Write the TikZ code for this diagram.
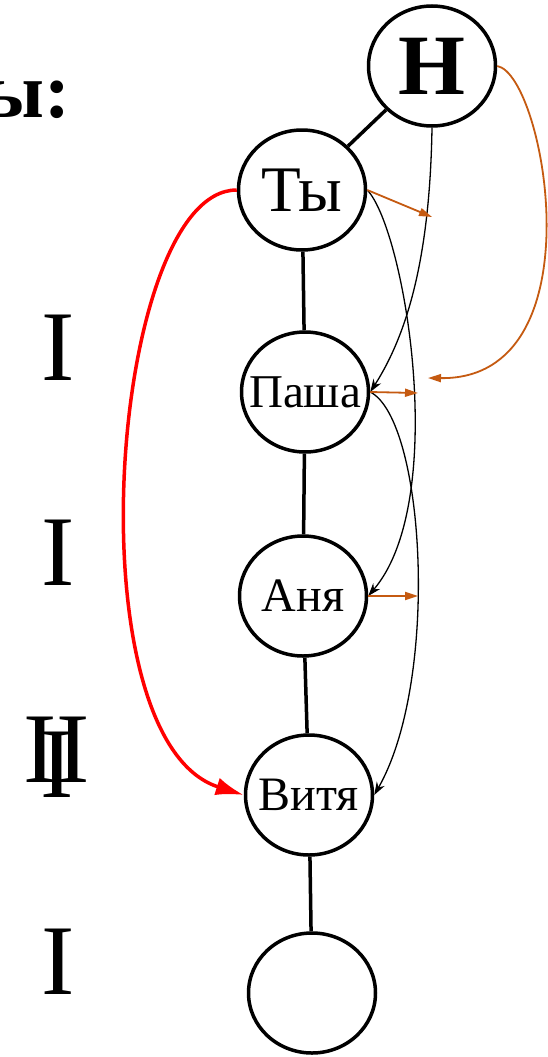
\documentclass[tikz,border=0pt]{standalone}
\usepackage{fontspec}
\setmainfont{Liberation Serif}
\usetikzlibrary{shapes.geometric,arrows.meta}
\definecolor{rust}{RGB}{197,90,17}
\newcommand\nm[1]{\makebox[0pt]{#1}}
\begin{document}
\begin{tikzpicture}[x=1pt,y=-1pt,
  person/.style={draw,ellipse,line width=3.5pt,minimum width=127pt,minimum height=120pt,inner sep=0pt},
  link/.style={line width=3.5pt},
  ask/.style={line width=1.3pt,-{Stealth[length=13pt,width=9pt]}},
  tell/.style={rust,line width=1.8pt,-{Triangle[length=13pt,width=8pt]}},
  roman/.style={font=\fontsize{100}{100}\selectfont}]
	\useasboundingbox (0,0) rectangle (548,1057);

	\node[person,font=\bfseries\fontsize{86}{86}\selectfont] (n) at (432,66) {\nm{Н}};
	\node[person,font=\fontsize{65}{65}\selectfont] (ty) at (302,190) {\nm{Ты}};
	\node[person,font=\fontsize{47}{47}\selectfont] (pasha) at (305,392) {\nm{Паша}};
	\node[person,font=\fontsize{48}{48}\selectfont] (anya) at (303,596) {\nm{Аня}};
	\node[person,font=\fontsize{48}{48}\selectfont] (vitya) at (309,795) {\nm{Витя}};
	\node[person] (last) at (312,993) {};

	\node[anchor=base east,font=\bfseries\fontsize{78}{78}\selectfont] (head) at (74,117) {ы:};
	\node[roman] (r1) at (58,348) {I};
	\node[roman] (r2) at (58,553) {I};
	\node[roman] (r3) at (57,750) {II};
	\node[roman] (r3b) at (57,765) {I};
	\node[roman] (r4) at (58,962) {I};

	\draw[link] (n) -- (ty);
	\draw[link] (ty) -- (pasha);
	\draw[link] (pasha) -- (anya);
	\draw[link] (anya) -- (vitya);
	\draw[link] (vitya) -- (last);

	% who passes to whom
	\draw[red,line width=3.5pt,-{Latex[length=28pt,width=18pt]}] (ty.west) .. controls (110,190) and (70,740) .. (vitya.west);
	\draw[ask] (n.south) .. controls (430,250) and (410,330) .. (pasha.east);
	\draw[ask] (ty.east) .. controls (405,230) and (450,500) .. (anya.east);
	\draw[ask] (pasha.east) .. controls (425,420) and (440,680) .. (vitya.east);

	\coordinate (back) at (428,378);
	\coordinate (ty-out) at (432,217);
	\coordinate (pasha-out) at (418,393);
	\coordinate (anya-out) at (418,596);
	\draw[tell] (n.east) .. controls (545,75) and (600,380) .. (back);
	\draw[tell] (ty.east) -- (ty-out);
	\draw[tell] (pasha.east) -- (pasha-out);
	\draw[tell] (anya.east) -- (anya-out);
\end{tikzpicture}
\end{document}
